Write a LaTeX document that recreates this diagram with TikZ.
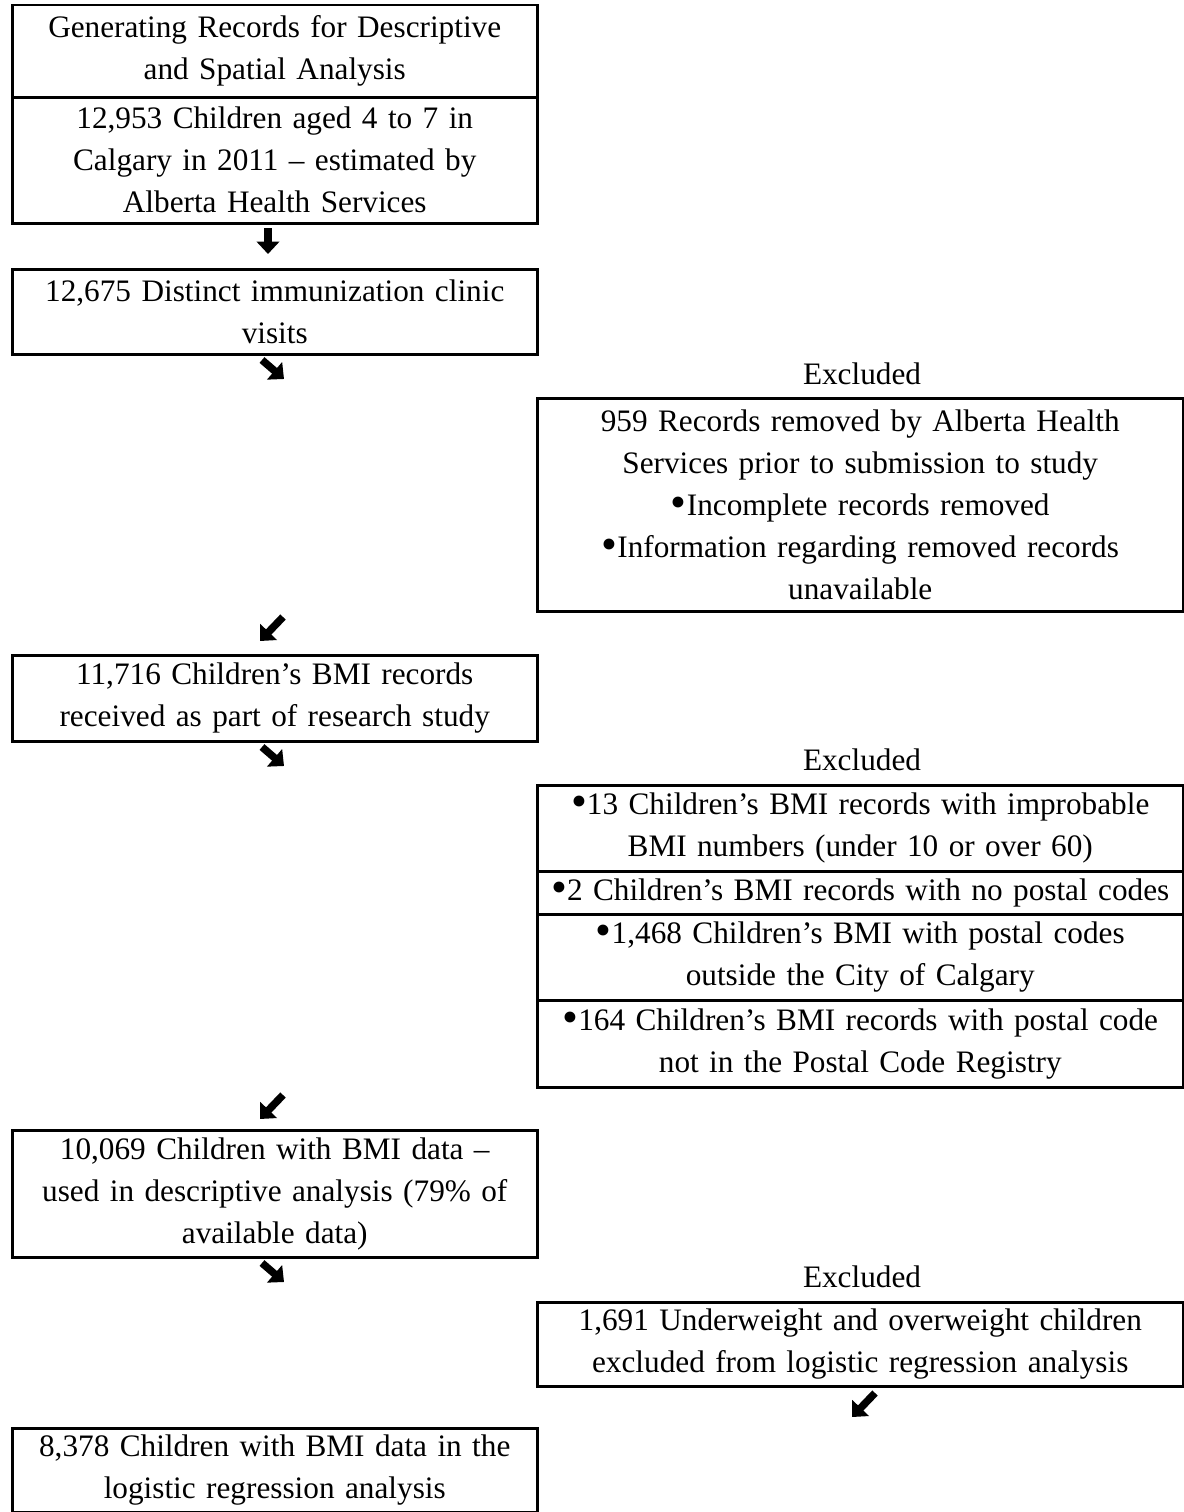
\documentclass[tikz,border=0pt]{standalone}
\usepackage{fontspec}
\setmainfont{Liberation Serif}
\usetikzlibrary{arrows.meta}
\newcommand{\blt}{\raisebox{-0.15ex}{\scalebox{1.45}{\textbullet}}}
\begin{document}
\begin{tikzpicture}[x=0.4pt,y=-0.4pt,
  every node/.append style={font=\fontsize{12.5}{16.8}\selectfont},
  lbox/.style={draw,line width=1pt,anchor=north west,inner sep=0pt,
    text width=210pt,align=center},
  rbox/.style={lbox,text width=258.4pt},
  fatarr/.style={line width=3pt,-{Triangle[width=9pt,length=5pt]}}]
  \useasboundingbox(0,0)rectangle(1184,1512);
  % left column
  \node[lbox,minimum height=36.8pt](title)at(11,4){Generating Records for Descriptive\\ and Spatial Analysis};
  \node[lbox,minimum height=50.4pt](pop)at(11,96){12,953 Children aged 4 to 7 in\\ Calgary in 2011 -- estimated by\\ Alberta Health Services};
  \node[lbox,minimum height=34pt](visits)at(11,268){12,675 Distinct immunization clinic\\ visits};
  \node[lbox,minimum height=34.4pt](recv)at(11,654){11,716 Children's BMI records\\ received as part of research study};
  \node[lbox,minimum height=50.8pt](descr)at(11,1129){10,069 Children with BMI data --\\ used in descriptive analysis (79\% of\\ available data)};
  \node[lbox,minimum height=33.6pt](logit)at(11,1427){8,378 Children with BMI data in the\\ logistic regression analysis};
  % right column
  \node(ex1)at(862,374){Excluded};
  \node[rbox,minimum height=85.2pt](removed)at(536,397){959 Records removed by Alberta Health\\ Services prior to submission to study\\ \blt Incomplete records removed\\ \blt Information regarding removed records\\ unavailable};
  \node(ex2)at(862,760){Excluded};
  \node[rbox,minimum height=34.4pt](improb)at(536,784){\blt 13 Children's BMI records with improbable\\ BMI numbers (under 10 or over 60)};
  \node[rbox,minimum height=17.2pt](nopc)at(536,870){\blt 2 Children's BMI records with no postal codes};
  \node[rbox,minimum height=34.4pt](outside)at(536,913){\blt 1,468 Children's BMI with postal codes\\ outside the City of Calgary};
  \node[rbox,minimum height=34.8pt](noreg)at(536,999){\blt 164 Children's BMI records with postal code\\ not in the Postal Code Registry};
  \node(ex3)at(862,1277){Excluded};
  \node[rbox,minimum height=33.6pt](weight)at(536,1301){1,691 Underweight and overweight children\\ excluded from logistic regression analysis};
  % arrow glyphs
  \coordinate(a1)at(268,228);\coordinate(b1)at(268,254);
  \coordinate(a2)at(262,360);\coordinate(b2)at(284,379);
  \coordinate(a3)at(283,617);\coordinate(b3)at(260,641);
  \coordinate(a4)at(262,747);\coordinate(b4)at(284,766);
  \coordinate(a5)at(283,1095);\coordinate(b5)at(260,1119);
  \coordinate(a6)at(262,1263);\coordinate(b6)at(284,1282);
  \coordinate(a7)at(875,1393);\coordinate(b7)at(852,1417);
  \foreach \i in {1,...,7}
    \draw[fatarr](a\i)--(b\i);
\end{tikzpicture}
\end{document}
